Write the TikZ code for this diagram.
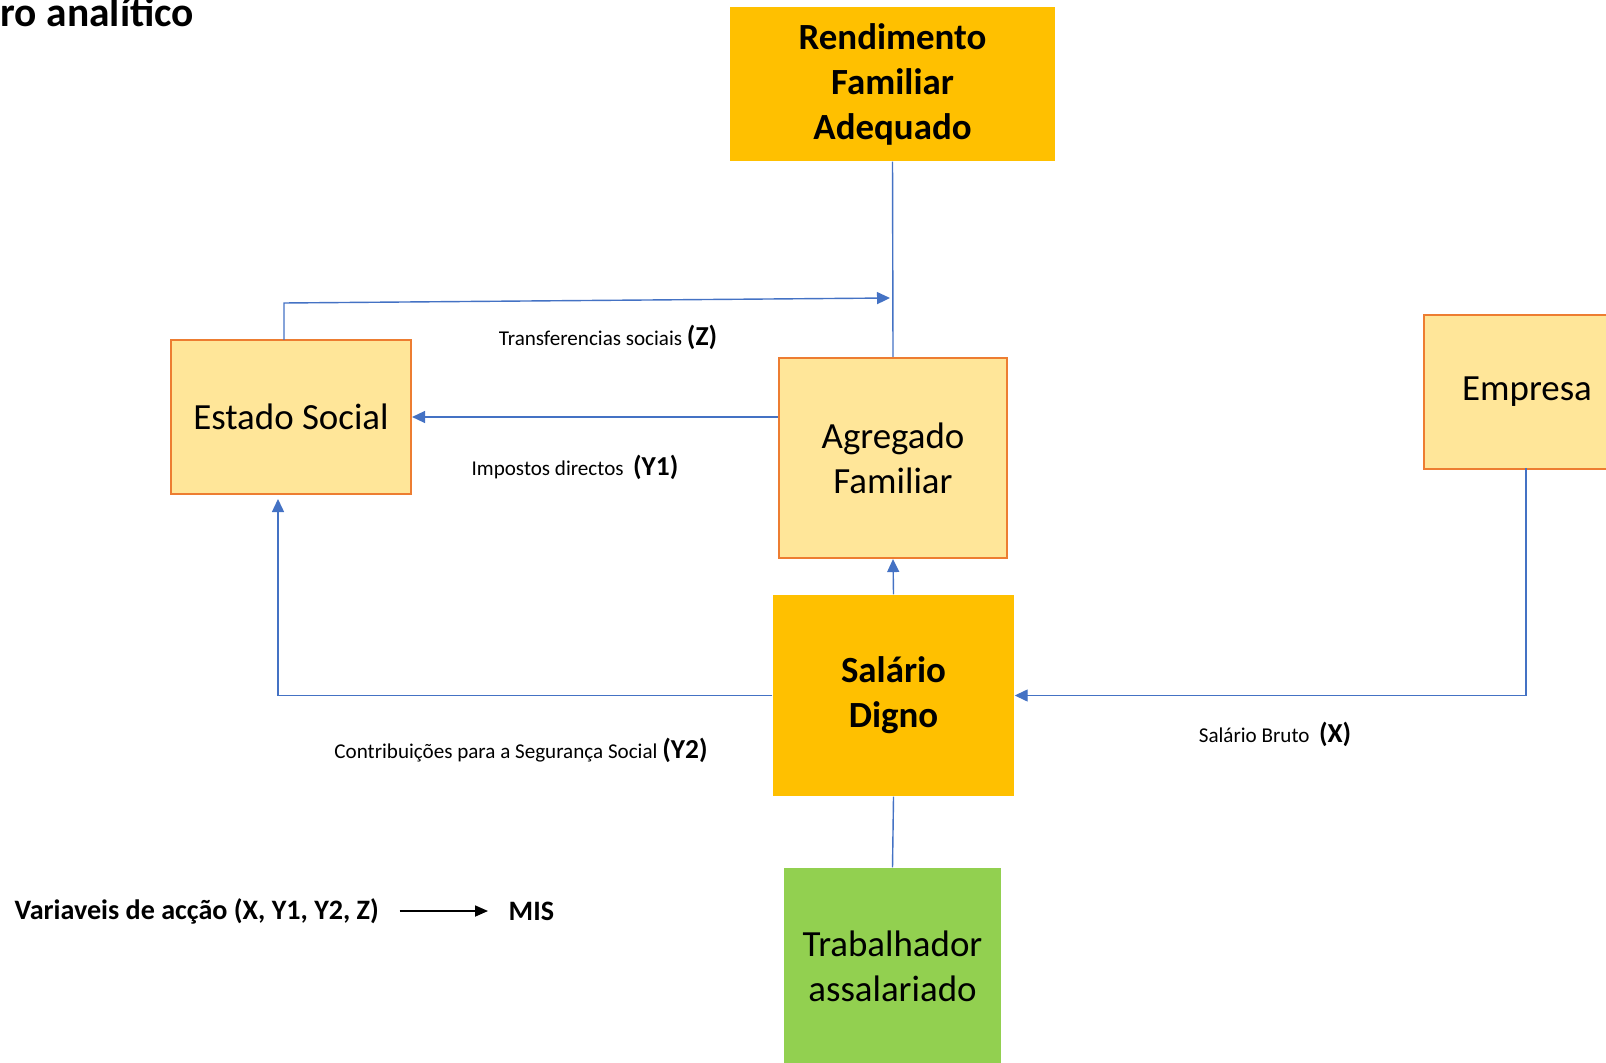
\documentclass[tikz,border=0pt]{standalone}
\usepackage{fontspec}
\setmainfont{Carlito}
\usetikzlibrary{arrows.meta}

\definecolor{amber}{HTML}{FFC000}
\definecolor{softfill}{HTML}{FFE699}
\definecolor{boxline}{HTML}{ED7D31}
\definecolor{leafgreen}{HTML}{92D050}
\definecolor{linkblue}{HTML}{4472C4}

\newcommand{\varname}[1]{{\fontsize{7.8}{9}\selectfont\bfseries #1}}

\begin{document}
\begin{tikzpicture}[
        softbox/.style={draw=boxline, line width=0.6pt, fill=softfill, inner sep=0pt, align=center,
                font=\fontsize{10.5}{12.8}\selectfont},
        keybox/.style={fill=amber, inner sep=0pt, align=center, font=\fontsize{10.5}{12.8}\selectfont\bfseries},
        workbox/.style={fill=leafgreen, inner sep=0pt, align=center, font=\fontsize{10.5}{12.8}\selectfont},
        link/.style={draw=linkblue, line width=0.4pt, -{Triangle[length=1.3mm,width=1.2mm]}},
        plainlink/.style={draw=linkblue, line width=0.4pt},
        flowlabel/.style={inner sep=0pt, font=\fontsize{6}{7}\selectfont}
]
        \clip (0,0) rectangle (16.06,-10.63);
        \node[anchor=base west, inner sep=0pt, font=\fontsize{11.8}{14}\selectfont\bfseries] (title) at (0,-0.27) {ro analítico};

        \node[keybox, minimum width=3.25cm, minimum height=1.54cm] (rend) at (8.925,-0.84) {Rendimento\\Familiar\\Adequado};
        \node[softbox, minimum width=2.40cm, minimum height=1.54cm] (es) at (2.91,-4.17) {Estado Social};
        \node[softbox, minimum width=2.28cm, minimum height=2.00cm] (ag) at (8.93,-4.58) {Agregado\\Familiar};
        \node[softbox, minimum width=2.06cm, minimum height=1.54cm] (emp) at (15.27,-3.92) {Empresa};
        \node[keybox, minimum width=2.41cm, minimum height=2.01cm] (sd) at (8.935,-6.955) {Salário\\Digno};
        \node[workbox, minimum width=2.17cm, minimum height=1.96cm] (trab) at (8.925,-9.66) {Trabalhador\\assalariado};

        \coordinate (zout) at (2.84,-3.40);
        \coordinate (ztip) at (8.90,-2.98);
        \coordinate (esin) at (2.78,-4.99);
        \coordinate (empout) at (15.26,-4.68);

        \draw[plainlink] (rend.south) -- (ag.north);
        \draw[link] (zout) -- (2.84,-3.03) -- (ztip);
        \draw[link] (ag.west |- es.east) -- (es.east);
        \draw[link] (sd.north) -- (ag.south);
        \draw[link] (sd.west) -- (sd.west -| esin) -- (esin);
        \draw[link] (empout) -- (empout |- sd.east) -- (sd.east);
        \draw[plainlink] (trab.north) -- (sd.south);

        \node[flowlabel] (lz) at (6.08,-3.37) {Transferencias sociais \varname{(Z)}};
        \node[flowlabel] (ly1) at (5.75,-4.67) {Impostos directos~~\varname{(Y1)}};
        \node[flowlabel] (ly2) at (5.21,-7.50) {Contribuições para a Segurança Social \varname{(Y2)}};
        \node[flowlabel] (lx) at (12.75,-7.34) {Salário Bruto~~\varname{(X)}};

        \node[anchor=west, inner sep=0pt, font=\fontsize{8}{9.6}\selectfont\bfseries] (acts) at (0.14,-9.11) {Variaveis de acção (X, Y1, Y2, Z)};
        \node[anchor=west, inner sep=0pt, font=\fontsize{8}{9.6}\selectfont\bfseries] (mis) at (5.08,-9.11) {MIS};
        \draw[line width=0.5pt, -{Triangle[length=1.3mm,width=1.1mm]}, shorten <=2mm, shorten >=2mm] (acts.east) -- (mis.west);
\end{tikzpicture}
\end{document}
